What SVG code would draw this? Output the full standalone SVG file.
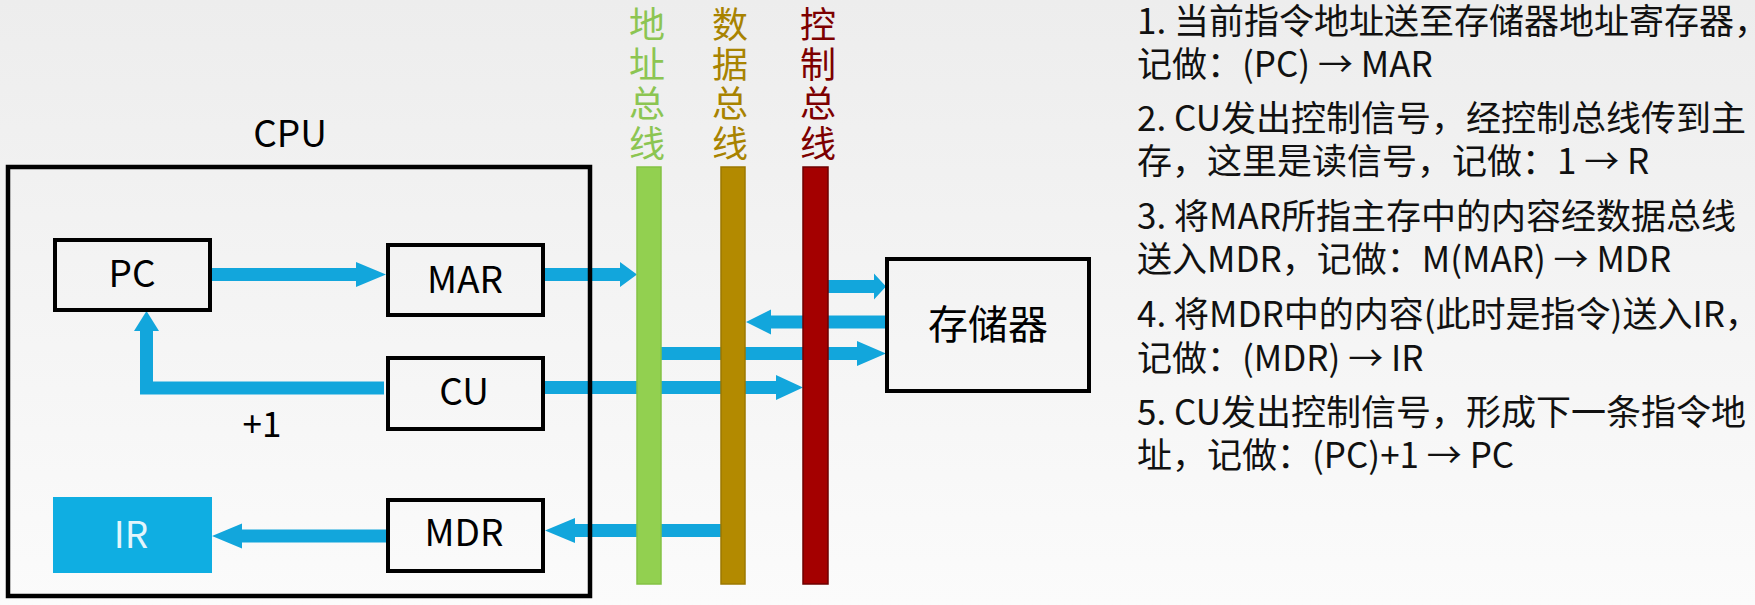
<svg xmlns="http://www.w3.org/2000/svg" width="1755" height="605" viewBox="0 0 1755 605">
  <defs>
    <linearGradient id="bg" x1="0" y1="0" x2="0" y2="1">
      <stop offset="0" stop-color="#ededed"/>
      <stop offset="1" stop-color="#fbfbfb"/>
    </linearGradient>
    <style>
      .box { fill: none; stroke: #000; stroke-width: 4; }
      .lbl { font-family: "Noto Sans CJK SC", "Liberation Sans", sans-serif; font-size: 37px; text-anchor: middle; fill: #000; }
      .arrow { fill: #12a6dc; }
      .note { font-family: "Noto Sans CJK SC", "Liberation Sans", sans-serif; font-size: 35px; fill: #111; }
      .buslbl { font-family: "Noto Sans CJK SC", sans-serif; font-size: 36px; text-anchor: middle; }
    </style>
  </defs>

  <rect x="0" y="0" width="1755" height="605" fill="url(#bg)"/>

  <g id="connectors">
    <polygon class="arrow" points="212,268 356,268 356,262 386,274.5 356,287 356,281 212,281"/>
    <polygon class="arrow" points="545,268 620,268 620,262 637,274.5 620,287 620,281 545,281"/>
    <polygon class="arrow" points="384,381.5 153,381.5 153,331 159,331 146.5,311 134,331 140,331 140,394.5 384,394.5"/>
    <polygon class="arrow" points="545,381 776,381 776,375 803,387.5 776,400 776,394 545,394"/>
    <polygon class="arrow" points="733,524 575,524 575,518 545,530.5 575,543 575,537 733,537"/>
    <polygon class="arrow" points="386,529.5 242,529.5 242,523.5 212,536 242,548.5 242,542.5 386,542.5"/>
    <polygon class="arrow" points="815,280 874,280 874,273.5 886,286.5 874,299.5 874,293 815,293"/>
    <polygon class="arrow" points="887,315.5 771,315.5 771,309.5 746,322 771,334.5 771,328.5 887,328.5"/>
    <polygon class="arrow" points="655,347 857,347 857,341 886,353.5 857,366 857,360 655,360"/>
  </g>

  <g id="cpu">
    <rect x="8" y="167" width="582" height="429" fill="none" stroke="#000" stroke-width="4.5"/>
    <text class="lbl" x="290" y="147">CPU</text>
  </g>

  <g id="pc">
    <rect class="box" x="55" y="240" width="155" height="70"/>
    <text class="lbl" x="132" y="287">PC</text>
  </g>

  <g id="mar">
    <rect class="box" x="388" y="245" width="155" height="70"/>
    <text class="lbl" x="465" y="293">MAR</text>
  </g>

  <g id="cu">
    <rect class="box" x="388" y="358" width="155" height="71"/>
    <text class="lbl" x="464" y="405">CU</text>
  </g>

  <g id="plus1">
    <text class="lbl" x="262" y="437" style="font-size:35px">+1</text>
  </g>

  <g id="mdr">
    <rect class="box" x="388" y="500" width="155" height="71"/>
    <text class="lbl" x="464" y="546">MDR</text>
  </g>

  <g id="ir">
    <rect x="53" y="497" width="159" height="76" fill="#0faee2"/>
    <text class="lbl" x="131" y="548" style="fill:#e2f5fc">IR</text>
  </g>

  <g id="address-bus">
    <rect x="637" y="167" width="24" height="417" fill="#92d050" stroke="#84c244" stroke-width="1.5"/>
    <text class="buslbl" fill="#8cc552"><tspan x="647" y="38">地</tspan><tspan x="647" y="78">址</tspan><tspan x="647" y="117">总</tspan><tspan x="647" y="157">线</tspan></text>
  </g>

  <g id="data-bus">
    <rect x="721" y="167" width="24" height="417" fill="#b38a00" stroke="#9c7800" stroke-width="1.5"/>
    <text class="buslbl" fill="#a88300"><tspan x="730" y="38">数</tspan><tspan x="730" y="78">据</tspan><tspan x="730" y="117">总</tspan><tspan x="730" y="157">线</tspan></text>
  </g>

  <g id="control-bus">
    <rect x="803" y="167" width="25" height="417" fill="#a40000" stroke="#6e0000" stroke-width="1.5"/>
    <text class="buslbl" fill="#7d0000"><tspan x="818" y="38">控</tspan><tspan x="818" y="78">制</tspan><tspan x="818" y="117">总</tspan><tspan x="818" y="157">线</tspan></text>
  </g>

  <g id="memory">
    <rect class="box" x="887" y="259" width="202" height="132"/>
    <text class="lbl" x="988" y="339" style="font-size:40px">存储器</text>
  </g>

  <g id="notes">
    <text class="note" x="1137" y="34">1. 当前指令地址送至存储器地址寄存器，</text>
    <text class="note" x="1137" y="77">记做：(PC) → MAR</text>
    <text class="note" x="1137" y="131">2. CU发出控制信号，经控制总线传到主</text>
    <text class="note" x="1137" y="174">存，这里是读信号，记做：1 → R</text>
    <text class="note" x="1137" y="229">3. 将MAR所指主存中的内容经数据总线</text>
    <text class="note" x="1137" y="272">送入MDR，记做：M(MAR) → MDR</text>
    <text class="note" x="1137" y="327">4. 将MDR中的内容(此时是指令)送入IR，</text>
    <text class="note" x="1137" y="371">记做：(MDR) → IR</text>
    <text class="note" x="1137" y="425">5. CU发出控制信号，形成下一条指令地</text>
    <text class="note" x="1137" y="468">址，记做：(PC)+1 → PC</text>
  </g>
</svg>
